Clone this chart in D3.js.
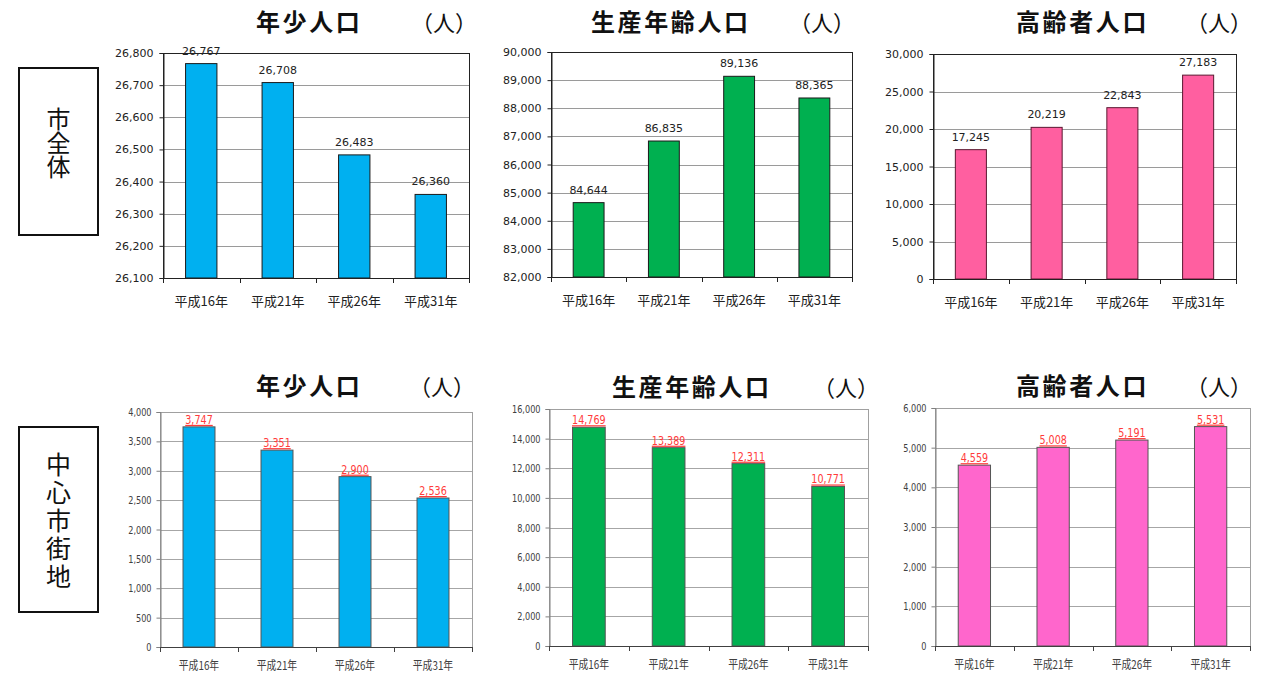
<!DOCTYPE html>
<html lang="ja">
<head>
<meta charset="utf-8">
<script src="https://cdn.jsdelivr.net/npm/d3@7"></script>
<style>
  html, body { margin: 0; padding: 0; background: #fff; }
  svg { display: block; }
</style>
</head>
<body>
<svg id="chart" width="1262" height="675"></svg>
<script>
// 年次区分
const years = ["平成16年", "平成21年", "平成26年", "平成31年"];

// 市全体（人）
const cityYouth = [26767, 26708, 26483, 26360];
const cityWorking = [84644, 86835, 89136, 88365];
const cityElderly = [17245, 20219, 22843, 27183];

// 中心市街地（人）
const centerYouth = [3747, 3351, 2900, 2536];
const centerWorking = [14769, 13389, 12311, 10771];
const centerElderly = [4559, 5008, 5191, 5531];

// 目盛
const cityYouthTicks = [26100, 26200, 26300, 26400, 26500, 26600, 26700, 26800];
const cityWorkingTicks = [82000, 83000, 84000, 85000, 86000, 87000, 88000, 89000, 90000];
const cityElderlyTicks = [0, 5000, 10000, 15000, 20000, 25000, 30000];
const centerYouthTicks = [0, 500, 1000, 1500, 2000, 2500, 3000, 3500, 4000];
const centerWorkingTicks = [0, 2000, 4000, 6000, 8000, 10000, 12000, 14000, 16000];
const centerElderlyTicks = [0, 1000, 2000, 3000, 4000, 5000, 6000];

// 見出し
const titleYouth = "年少人口";
const titleWorking = "生産年齢人口";
const titleElderly = "高齢者人口";
const unitLabel = "（人）";
const rowLabels = ["市全体", "中心市街地"];

const svg = d3.select("#chart");
const fmt = d3.format(",");
const CJK = "'Noto Sans CJK JP', 'Noto Sans CJK SC', sans-serif";
const NUM = "'DejaVu Sans', Verdana, sans-serif";

// 横方向に詰めた文字（狭い書体の代わり）
function condense(sel, factor) {
  sel.each(function () {
    const w = this.getComputedTextLength();
    d3.select(this).attr("textLength", w * factor).attr("lengthAdjust", "spacingAndGlyphs");
  });
}

const panels = [
  { values: cityYouth, ticks: cityYouthTicks, title: titleYouth, row: 0,
    box: { l: 163, r: 469, t: 53, b: 278 }, titleX: 256, unitX: 477, titleY: 31,
    fill: "#00B0F0", stroke: "#1a1a1a" },
  { values: cityWorking, ticks: cityWorkingTicks, title: titleWorking, row: 0,
    box: { l: 551, r: 852, t: 52, b: 277 }, titleX: 591, unitX: 855, titleY: 31,
    fill: "#00B050", stroke: "#1a1a1a" },
  { values: cityElderly, ticks: cityElderlyTicks, title: titleElderly, row: 0,
    box: { l: 933, r: 1236, t: 54, b: 279 }, titleX: 1016, unitX: 1252, titleY: 31,
    fill: "#FF5FA0", stroke: "#5a1830" },
  { values: centerYouth, ticks: centerYouthTicks, title: titleYouth, row: 1,
    box: { l: 160, r: 472, t: 412, b: 647 }, titleX: 256, unitX: 475, titleY: 395,
    fill: "#00B0F0", stroke: "#555" },
  { values: centerWorking, ticks: centerWorkingTicks, title: titleWorking, row: 1,
    box: { l: 549, r: 868, t: 409, b: 646 }, titleX: 612, unitX: 879, titleY: 396,
    fill: "#00B050", stroke: "#555" },
  { values: centerElderly, ticks: centerElderlyTicks, title: titleElderly, row: 1,
    box: { l: 935, r: 1250, t: 408, b: 646 }, titleX: 1016, unitX: 1252, titleY: 395,
    fill: "#FF66CC", stroke: "#555" }
];

panels.forEach(p => {
  const g = svg.append("g");
  const { l, r, t, b } = p.box;
  const small = p.row === 1;

  const x = d3.scaleBand().domain(years).range([l, r]).paddingInner(0.59).paddingOuter(0.295);
  const y = d3.scaleLinear().domain(d3.extent(p.ticks)).range([b, t]);

  // 目盛線
  g.append("g").selectAll("line").data(p.ticks.slice(1)).join("line")
    .attr("x1", l).attr("x2", r)
    .attr("y1", d => Math.round(y(d)) + 0.5).attr("y2", d => Math.round(y(d)) + 0.5)
    .attr("stroke", small ? "#a6a6a6" : "#9a9a9a").attr("stroke-width", 1);

  // 外枠
  g.append("rect").attr("x", l + 0.5).attr("y", t + 0.5)
    .attr("width", r - l).attr("height", b - t)
    .attr("fill", "none").attr("stroke", small ? "#a0a0a0" : "#222").attr("stroke-width", 1);

  // 棒
  g.append("g").selectAll("rect").data(p.values).join("rect")
    .attr("x", (d, i) => x(years[i]))
    .attr("y", d => y(d))
    .attr("width", x.bandwidth())
    .attr("height", d => y.range()[0] - y(d))
    .attr("fill", p.fill)
    .attr("stroke", p.stroke).attr("stroke-width", 1);

  // 縦軸
  const yAxis = d3.axisLeft(y).tickValues(p.ticks).tickFormat(fmt).tickSize(4).tickPadding(small ? 5 : 6);
  const ya = g.append("g").attr("transform", `translate(${l + 0.5},0)`).call(yAxis);
  ya.select(".domain").attr("stroke", small ? "#808080" : "#222");
  ya.selectAll(".tick line").attr("stroke", small ? "#808080" : "#222");
  ya.selectAll("text")
    .attr("font-family", NUM).attr("font-size", 11)
    .attr("fill", small ? "#404040" : "#222");
  if (small) condense(ya.selectAll("text"), 0.74);

  // 横軸
  const xBounds = d3.range(years.length + 1).map(i => l + i * (r - l) / years.length);
  const xa = g.append("g");
  xa.append("line").attr("x1", l).attr("x2", r + 1)
    .attr("y1", b + 0.5).attr("y2", b + 0.5)
    .attr("stroke", small ? "#404040" : "#222");
  xa.selectAll("line.tk").data(xBounds).join("line").attr("class", "tk")
    .attr("x1", d => Math.round(d) + 0.5).attr("x2", d => Math.round(d) + 0.5)
    .attr("y1", b).attr("y2", b + 5)
    .attr("stroke", small ? "#404040" : "#222");
  const xl = xa.selectAll("text").data(years).join("text")
    .attr("x", d => x(d) + x.bandwidth() / 2)
    .attr("y", small ? b + 23 : b + 28)
    .attr("text-anchor", "middle")
    .attr("font-family", CJK).attr("font-size", small ? 12 : 13)
    .attr("fill", small ? "#404040" : "#222")
    .text(d => d);
  if (small) condense(xl, 0.82);

  // 数値ラベル
  const vl = g.append("g").selectAll("text").data(p.values).join("text")
    .attr("x", (d, i) => x(years[i]) + x.bandwidth() / 2)
    .attr("y", d => y(d) - (small ? 3 : 9))
    .attr("text-anchor", "middle")
    .attr("font-family", NUM)
    .attr("font-size", small ? 12 : 11)
    .attr("fill", small ? "#FF3B3B" : "#222")
    .style("text-decoration", small ? "underline" : "none")
    .text(d => fmt(d));
  if (small) condense(vl, 0.8);

  // 表題
  g.append("text").attr("x", p.titleX).attr("y", p.titleY)
    .attr("font-family", CJK).attr("font-size", 24).attr("font-weight", "bold")
    .attr("letter-spacing", 2.6).attr("fill", "#111")
    .text(p.title);
  g.append("text").attr("x", p.unitX).attr("y", p.titleY)
    .attr("text-anchor", "end")
    .attr("font-family", CJK).attr("font-size", 22).attr("fill", "#111")
    .text(unitLabel);
});

// 行見出し（縦書き枠）
const rowBoxes = [
  { x: 19, y: 68, w: 79, h: 167, centerY: 143, size: 24, step: 24 },
  { x: 19, y: 427, w: 79, h: 185, centerY: 520, size: 25, step: 28 }
];
rowBoxes.forEach((bx, i) => {
  const g = svg.append("g");
  g.append("rect").attr("x", bx.x).attr("y", bx.y).attr("width", bx.w).attr("height", bx.h)
    .attr("fill", "#fff").attr("stroke", "#111").attr("stroke-width", 2);
  const label = rowLabels[i];
  // 縦書き：文字送りは step、中央揃え
  g.append("text")
    .attr("x", bx.x + bx.w / 2)
    .attr("y", bx.centerY + (bx.step - bx.size) / 2)
    .attr("text-anchor", "middle")
    .style("writing-mode", "vertical-rl")
    .attr("letter-spacing", bx.step - bx.size)
    .attr("font-family", CJK).attr("font-size", bx.size).attr("fill", "#111")
    .text(label);
});
</script>
</body>
</html>
